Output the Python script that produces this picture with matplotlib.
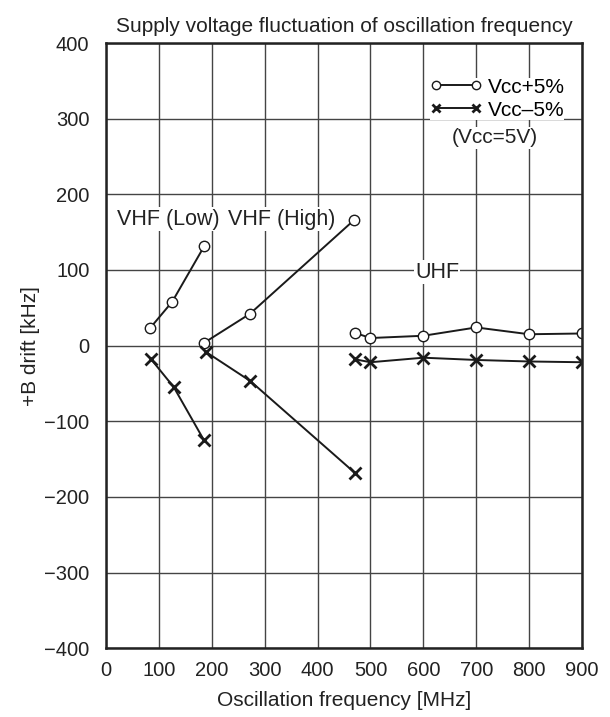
import matplotlib
matplotlib.use("Agg")
import matplotlib.pyplot as plt

plt.rcParams['font.family'] = ['Liberation Sans', 'DejaVu Sans']

# VHF (Low)
low_f_p = [83, 125, 186]
low_d_p = [23, 58, 132]
low_f_m = [85, 128, 185]
low_d_m = [-18, -55, -125]
# VHF (High)
high_f_p = [186, 272, 469]
high_d_p = [4, 42, 166]
high_f_m = [188, 273, 470]
high_d_m = [-8, -47, -168]
# UHF
uhf_f = [470, 500, 600, 700, 800, 900]
uhf_d_p = [17, 10, 13, 24, 15, 16]
uhf_d_m = [-18, -22, -16, -19, -21, -22]

xticks = [0, 100, 200, 300, 400, 500, 600, 700, 800, 900]
yticks = [-400, -300, -200, -100, 0, 100, 200, 300, 400]

fig = plt.figure(figsize=(6.1, 7.17), dpi=100)
ax = fig.add_axes([0.174, 0.096, 0.78, 0.844])

ink = '#222222'
pk = dict(color='#1a1a1a', lw=1.4, marker='o', ms=7.5, mfc='white', mec='#1a1a1a', mew=1.0)
mk = dict(color='#1a1a1a', lw=1.4, marker='x', ms=8, mec='#1a1a1a', mew=2.0)

ax.plot(low_f_p, low_d_p, **pk, label='Vcc+5%')
ax.plot(low_f_m, low_d_m, **mk, label='Vcc\u20135%')
ax.plot(high_f_p, high_d_p, **pk)
ax.plot(high_f_m, high_d_m, **mk)
ax.plot(uhf_f, uhf_d_p, **pk)
ax.plot(uhf_f, uhf_d_m, **mk)

ax.set_xlim(0, 900)
ax.set_ylim(-400, 400)
ax.set_xticks(xticks)
ax.set_yticks(yticks)
ax.set_yticklabels([str(v).replace('-', '\u2212') for v in yticks])
ax.tick_params(length=0, labelsize=14.5, colors=ink)
ax.tick_params(axis='y', pad=12)
ax.tick_params(axis='x', pad=9)
ax.grid(True, color='#444444', lw=1.0)
ax.set_axisbelow(True)
for s in ax.spines.values():
    s.set_linewidth(1.8)
    s.set_color(ink)

lbl = dict(fontsize=15.5, color=ink, ha='left', va='center',
           bbox=dict(fc='white', ec='none', pad=1))
ax.text(21, 167, 'VHF (Low)', **lbl)
ax.text(231, 167, 'VHF (High)', **lbl)
ax.text(584, 97, 'UHF', **lbl)

leg = ax.legend(loc='upper left', bbox_to_anchor=(0.681, 0.943), frameon=True, fontsize=15,
                handlelength=2.5, handletextpad=0.25, borderpad=0, labelspacing=0.2,
                borderaxespad=0, numpoints=2, fancybox=False, markerscale=0.8)
leg.get_frame().set_facecolor('white')
leg.get_frame().set_edgecolor('none')
leg.get_frame().set_alpha(1)
ax.text(736, 275, '(Vcc=5V)', fontsize=15, color=ink, ha='center', va='center',
        bbox=dict(fc='white', ec='none', pad=1))

ax.set_title('Supply voltage fluctuation of oscillation frequency', fontsize=15, pad=8, color=ink)
ax.set_xlabel('Oscillation frequency [MHz]', fontsize=15, labelpad=8, color=ink)
ax.set_ylabel('+B drift [kHz]', fontsize=15, labelpad=3, color=ink)

fig.savefig('out.png', dpi=100)
